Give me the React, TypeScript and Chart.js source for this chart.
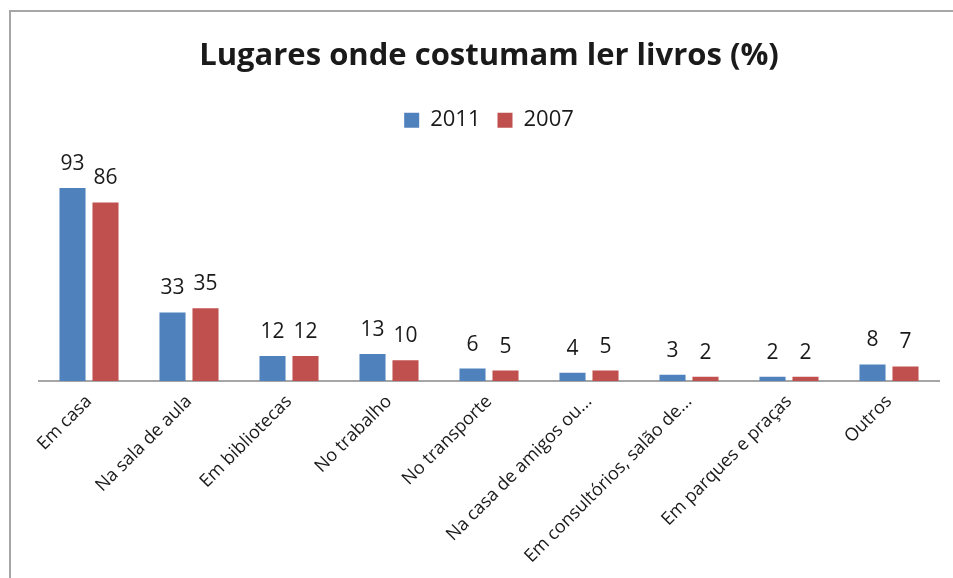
import React, { useEffect, useRef } from "react";
import { Chart, registerables } from "chart.js";

Chart.register(...registerables);

const categories = [
  "Em casa",
  "Na sala de aula",
  "Em bibliotecas",
  "No trabalho",
  "No transporte",
  "Na casa de amigos ou...",
  "Em consultórios, salão de...",
  "Em parques e praças",
  "Outros",
];
const values2011 = [93, 33, 12, 13, 6, 4, 3, 2, 8];
const values2007 = [86, 35, 12, 10, 5, 5, 2, 2, 7];
const seriesLabels = ["2011", "2007"];
const titleText = "Lugares onde costumam ler livros (%)";

const FONT = "'Open Sans', 'DejaVu Sans', sans-serif";

const dataLabelPlugin = {
  id: "dataLabels",
  afterDatasetsDraw(chart: any) {
    const ctx = chart.ctx;
    ctx.save();
    ctx.font = `21px ${FONT}`;
    ctx.fillStyle = "#1a1a1a";
    ctx.textAlign = "center";
    ctx.textBaseline = "alphabetic";
    chart.data.datasets.forEach((ds: any, di: number) => {
      const meta = chart.getDatasetMeta(di);
      meta.data.forEach((bar: any, i: number) => {
        ctx.fillText(String(ds.data[i]), bar.x, bar.y - 18);
      });
    });
    ctx.restore();
  },
};

export default function App() {
  const ref = useRef<HTMLCanvasElement>(null);
  useEffect(() => {
    if (!ref.current) return;
    const chart = new Chart(ref.current, {
      type: "bar",
      data: {
        labels: categories,
        datasets: [
          { label: seriesLabels[0], data: values2011, backgroundColor: "#4F81BD" },
          { label: seriesLabels[1], data: values2007, backgroundColor: "#C0504D" },
        ],
      },
      options: {
        animation: false,
        responsive: false,
        maintainAspectRatio: false,
        layout: { padding: { left: 39, right: 14, top: 0, bottom: 0 } },
        datasets: { bar: { categoryPercentage: 0.66, barPercentage: 0.79 } },
        plugins: {
          title: {
            display: true,
            text: titleText,
            color: "#1a1a1a",
            font: { family: FONT, size: 31, weight: "bold" },
            padding: { top: 38, bottom: 17 },
          },
          legend: {
            display: true,
            position: "top",
            labels: {
              color: "#1a1a1a",
              font: { family: FONT, size: 22 },
              boxWidth: 15,
              boxHeight: 15,
              padding: 17,
            },
          },
          tooltip: { enabled: false },
        },
        scales: {
          x: {
            grid: { display: false },
            border: { display: true, color: "#A6A6A6", width: 2 },
            ticks: {
              color: "#1a1a1a",
              font: { family: FONT, size: 18 },
              minRotation: 45,
              maxRotation: 45,
              autoSkip: false,
              padding: 2,
            },
            afterFit(scale: any) {
              scale.height = 197;
            },
          },
          y: {
            display: false,
            min: 0,
            max: 115.5,
          },
        },
      },
      plugins: [dataLabelPlugin],
    });
    return () => chart.destroy();
  }, []);
  return (
    <div style={{ position: "fixed", left: 0, top: 0, width: 953, height: 578, background: "#fff", overflow: "hidden" }}>
      <div
        style={{
          position: "absolute",
          left: 9,
          top: 10,
          width: 1000,
          height: 1000,
          borderLeft: "2px solid #A6A6A6",
          borderTop: "2px solid #A6A6A6",
        }}
      />
      <canvas ref={ref} width={953} height={578} style={{ position: "absolute", left: 0, top: 0 }} />
    </div>
  );
}
